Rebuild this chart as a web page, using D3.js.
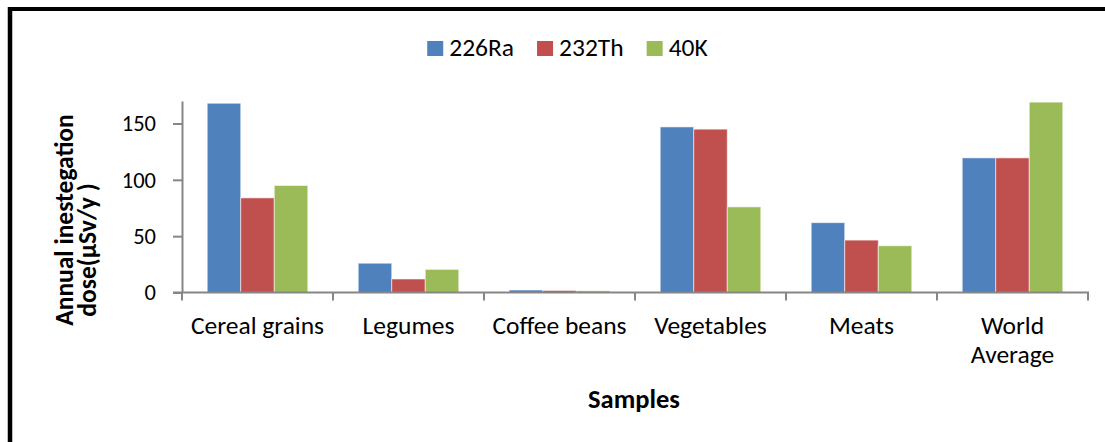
<!DOCTYPE html>
<html>
<head>
<meta charset="utf-8">
<script src="https://cdn.jsdelivr.net/npm/d3@7"></script>
<style>
  html, body { margin: 0; padding: 0; background: #fff; }
  svg { display: block; }
  text { font-family: Carlito, Lato, "Open Sans", sans-serif; fill: #000; }
</style>
</head>
<body>
<svg id="chart" width="1105" height="442"></svg>
<script>
// ---- data ----
const categories = ["Cereal grains", "Legumes", "Coffee beans", "Vegetables", "Meats", "World Average"];
const categoryLabels = [["Cereal grains"], ["Legumes"], ["Coffee beans"], ["Vegetables"], ["Meats"], ["World", "Average"]];
const seriesNames = ["226Ra", "232Th", "40K"];
const ra226 = [168, 26, 2.2, 147, 62, 119.5];
const th232 = [84, 12, 1.8, 145, 46.5, 119.5];
const k40   = [95, 20.5, 1.5, 76, 41.5, 169];
const yTicks = [0, 50, 100, 150];
const yMax = 170;
const yTitleLines = ["Annual inestegation", "dose(µSv/y )"];
const xTitle = "Samples";
const colors = ["#4F81BD", "#C0504D", "#9BBB59"];

const seriesValues = [ra226, th232, k40];
const rows = categories.map((c, i) => ({ cat: c, vals: seriesNames.map((s, j) => ({ s, v: seriesValues[j][i] })) }));

const svg = d3.select("#chart");

// frame
svg.append("line").attr("x1", 10).attr("x2", 10).attr("y1", 7).attr("y2", 442)
  .attr("stroke", "#000").attr("stroke-width", 4.5);
svg.append("line").attr("x1", 8).attr("x2", 1105).attr("y1", 9).attr("y2", 9)
  .attr("stroke", "#000").attr("stroke-width", 4);

// scales
const x = d3.scaleBand().domain(categories).range([182, 1088]).paddingInner(0.334).paddingOuter(0.167);
const xs = d3.scaleBand().domain(seriesNames).range([0, x.bandwidth()]);
const y = d3.scaleLinear().domain([0, yMax]).range([292.5, 101]);

// bars
const g = svg.append("g");
g.selectAll("g.cat").data(rows).join("g")
  .attr("class", "cat")
  .attr("transform", d => `translate(${x(d.cat)},0)`)
  .selectAll("rect").data(d => d.vals).join("rect")
  .attr("x", d => xs(d.s))
  .attr("width", xs.bandwidth())
  .attr("y", d => y(d.v))
  .attr("height", d => y(0) - y(d.v))
  .attr("fill", (d, i) => colors[i])
  .attr("stroke", "rgba(255,255,255,0.55)")
  .attr("stroke-width", 1);

// y axis
const yAxis = svg.append("g").attr("transform", "translate(182,0)")
  .call(d3.axisLeft(y).tickValues(yTicks).tickSize(9).tickSizeOuter(0).tickPadding(17));
yAxis.select(".domain").attr("stroke", "#868686").attr("stroke-width", 2);
yAxis.selectAll(".tick line").attr("stroke", "#868686").attr("stroke-width", 2);
yAxis.selectAll(".tick text").attr("font-size", 22.5).attr("font-family", "Carlito, Lato, sans-serif").attr("fill", "#000");

// x axis
const y0 = y(0);
svg.append("line").attr("x1", 173).attr("x2", 1089).attr("y1", y0).attr("y2", y0)
  .attr("stroke", "#868686").attr("stroke-width", 2);
const bounds = categories.map(c => x(c) - x.step() * x.paddingOuter()).concat([x.range()[1]]);
svg.selectAll("line.xt").data(bounds).join("line").attr("class", "xt")
  .attr("x1", d => d).attr("x2", d => d).attr("y1", y0).attr("y2", y0 + 8)
  .attr("stroke", "#868686").attr("stroke-width", 2);

// category labels
const labs = svg.selectAll("text.cl").data(categories).join("text").attr("class", "cl")
  .attr("text-anchor", "middle").attr("font-size", 25.5)
  .attr("transform", d => `translate(${x(d) + x.bandwidth() / 2},334)`);
labs.selectAll("tspan").data((d, i) => categoryLabels[i]).join("tspan")
  .attr("x", 0).attr("dy", (d, i) => i === 0 ? 0 : 29).text(d => d);

// axis titles
svg.append("text").attr("x", 634).attr("y", 408).attr("text-anchor", "middle")
  .attr("font-size", 26.5).attr("font-weight", "bold").text(xTitle);
const ytCenters = [220, 250];
const ytBase = [73, 96];
yTitleLines.forEach((t, i) => {
  svg.append("text").attr("transform", `translate(${ytBase[i]},${ytCenters[i]}) rotate(-90)`)
    .attr("text-anchor", "middle").attr("font-size", 25.5).attr("font-weight", "bold").text(t);
});

// legend
const leg = svg.append("g");
const items = leg.selectAll("g").data(seriesNames).join("g");
items.append("rect").attr("width", 16).attr("height", 15).attr("y", 41).attr("fill", (d, i) => colors[i]);
items.append("text").attr("x", 22).attr("y", 56).attr("font-size", 25.5).text(d => d);
const widths = [];
items.each(function () { widths.push(d3.select(this).select("text").node().getComputedTextLength()); });
const total = widths.reduce((a, w) => a + 22 + w, 0) + 23 * (seriesNames.length - 1);
let start = 567.5 - total / 2;
items.attr("transform", (d, i) => {
  const t = `translate(${start},0)`;
  start += 22 + widths[i] + 23;
  return t;
});
</script>
</body>
</html>
